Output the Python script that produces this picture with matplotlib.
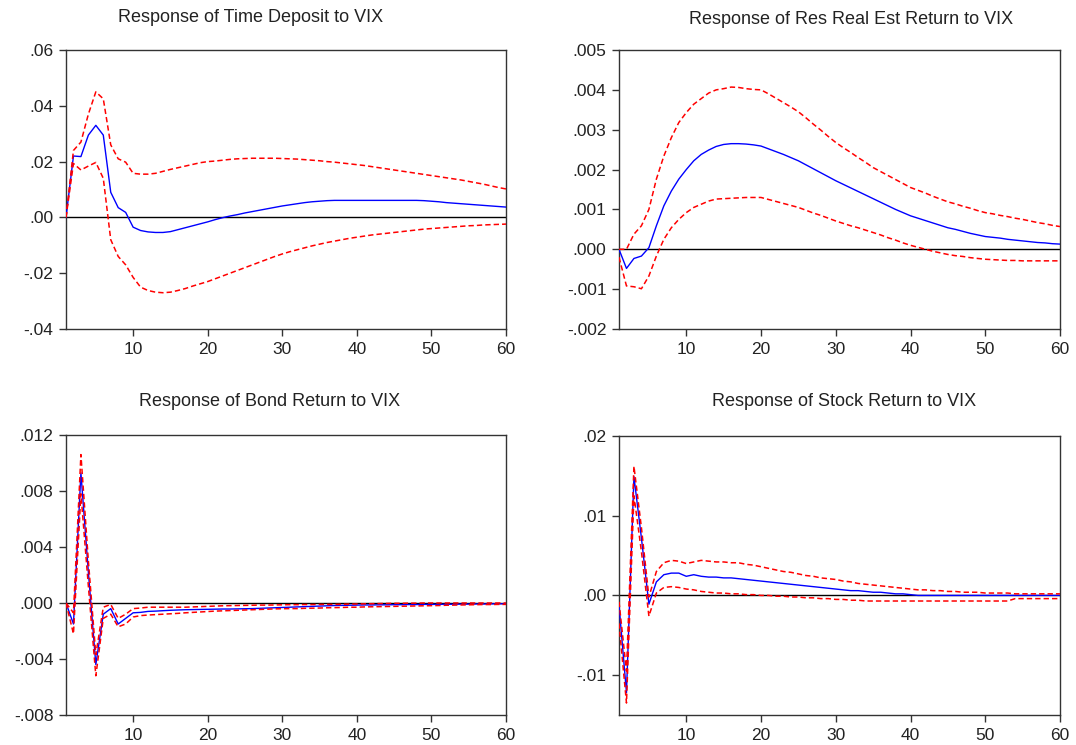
import numpy as np
import matplotlib
matplotlib.use("Agg")
import matplotlib.pyplot as plt

plt.rcParams["font.family"] = ["Liberation Sans", "DejaVu Sans"]

periods = np.arange(1, 61)

# Response of Time Deposit to VIX
td_resp = [0.0, 0.0220, 0.0218, 0.0295, 0.0330, 0.0295, 0.0090, 0.0035, 0.0018, -0.0035,
           -0.0047, -0.0052, -0.0054, -0.0054, -0.0051, -0.0044, -0.0037, -0.0030, -0.0023, -0.0016,
           -0.0008, -0.0001, 0.0005, 0.0010, 0.0016, 0.0021, 0.0026, 0.0031, 0.0036, 0.0041,
           0.0045, 0.0049, 0.0053, 0.0056, 0.0058, 0.0060, 0.0061, 0.0061, 0.0061, 0.0061,
           0.0061, 0.0061, 0.0061, 0.0061, 0.0061, 0.0061, 0.0061, 0.0061, 0.0060, 0.0058,
           0.0056, 0.0053, 0.0051, 0.0049, 0.0047, 0.0045, 0.0043, 0.0041, 0.0039, 0.0037]
td_up = [0.0, 0.0240, 0.0270, 0.0370, 0.0450, 0.0425, 0.0260, 0.0210, 0.0198, 0.0158,
         0.0155, 0.0155, 0.0158, 0.0165, 0.0172, 0.0178, 0.0184, 0.0190, 0.0196, 0.0200,
         0.0202, 0.0205, 0.0208, 0.0210, 0.0211, 0.0212, 0.0212, 0.0212, 0.0212, 0.0211,
         0.0210, 0.0209, 0.0207, 0.0205, 0.0203, 0.0200, 0.0198, 0.0195, 0.0192, 0.0189,
         0.0186, 0.0182, 0.0178, 0.0174, 0.0170, 0.0166, 0.0162, 0.0158, 0.0154, 0.0150,
         0.0146, 0.0142, 0.0138, 0.0134, 0.0129, 0.0124, 0.0119, 0.0113, 0.0107, 0.0102]
td_lo = [0.0, 0.0193, 0.0170, 0.0184, 0.0197, 0.0140, -0.0080, -0.0140, -0.0170, -0.0215,
         -0.0250, -0.0262, -0.0268, -0.0270, -0.0268, -0.0262, -0.0255, -0.0246, -0.0238, -0.0230,
         -0.0220, -0.0210, -0.0200, -0.0190, -0.0180, -0.0170, -0.0160, -0.0150, -0.0140, -0.0131,
         -0.0123, -0.0116, -0.0109, -0.0102, -0.0096, -0.0090, -0.0085, -0.0080, -0.0075, -0.0071,
         -0.0067, -0.0063, -0.0060, -0.0057, -0.0054, -0.0051, -0.0048, -0.0045, -0.0042, -0.0040,
         -0.0038, -0.0036, -0.0034, -0.0032, -0.0030, -0.0029, -0.0027, -0.0026, -0.0025, -0.0024]

# Response of Res Real Est Return to VIX
re_resp = [0.0, -0.00048, -0.00023, -0.00017, 0.00004, 0.00059, 0.00109, 0.00146, 0.00176, 0.00200,
           0.00222, 0.00238, 0.00249, 0.00258, 0.00263, 0.00265, 0.00265, 0.00264, 0.00262, 0.00259,
           0.00252, 0.00245, 0.00238, 0.00230, 0.00222, 0.00212, 0.00202, 0.00192, 0.00182, 0.00172,
           0.00163, 0.00154, 0.00145, 0.00136, 0.00127, 0.00118, 0.00109, 0.00100, 0.00092, 0.00084,
           0.00078, 0.00072, 0.00066, 0.00060, 0.00054, 0.00050, 0.00045, 0.00040, 0.00036, 0.00032,
           0.00030, 0.00028, 0.00025, 0.00023, 0.00021, 0.00019, 0.00017, 0.00016, 0.00014, 0.00013]
re_up = [0.0, 0.0, 0.00038, 0.00059, 0.00100, 0.00176, 0.00234, 0.00280, 0.00318, 0.00343,
         0.00364, 0.00378, 0.00392, 0.00400, 0.00403, 0.00407, 0.00406, 0.00403, 0.00401, 0.00400,
         0.00390, 0.00379, 0.00368, 0.00357, 0.00345, 0.00330, 0.00314, 0.00299, 0.00283, 0.00268,
         0.00255, 0.00243, 0.00230, 0.00218, 0.00205, 0.00195, 0.00185, 0.00175, 0.00165, 0.00155,
         0.00148, 0.00141, 0.00133, 0.00126, 0.00119, 0.00114, 0.00108, 0.00103, 0.00097, 0.00092,
         0.00089, 0.00085, 0.00082, 0.00078, 0.00075, 0.00071, 0.00067, 0.00064, 0.00060, 0.00057]
re_lo = [-0.00020, -0.00092, -0.00094, -0.00099, -0.00067, -0.00017, 0.00025, 0.00054, 0.00075, 0.00092,
         0.00105, 0.00113, 0.00121, 0.00126, 0.00127, 0.00128, 0.00129, 0.00130, 0.00130, 0.00130,
         0.00125, 0.00120, 0.00115, 0.00110, 0.00105, 0.00098, 0.00091, 0.00085, 0.00078, 0.00071,
         0.00065, 0.00059, 0.00054, 0.00048, 0.00042, 0.00036, 0.00029, 0.00023, 0.00016, 0.00010,
         0.00005, 0.00000, -0.00005, -0.00009, -0.00013, -0.00016, -0.00018, -0.00021, -0.00023, -0.00025,
         -0.00026, -0.00027, -0.00028, -0.00028, -0.00029, -0.00029, -0.00029, -0.00029, -0.00029, -0.00029]

# Response of Bond Return to VIX
bd_resp = [0.0, -0.0015, 0.0093, 0.0022, -0.0044, -0.0008, -0.0004, -0.0015, -0.0011, -0.0007,
           -0.00067, -0.0006, -0.00058, -0.00055, -0.00052, -0.0005, -0.00048, -0.00047, -0.00046, -0.00045,
           -0.00044, -0.00043, -0.00043, -0.00042, -0.00041, -0.0004, -0.00038, -0.00036, -0.00034, -0.00032,
           -0.0003, -0.00028, -0.00026, -0.00024, -0.00022, -0.0002, -0.00018, -0.00017, -0.00016, -0.00015,
           -0.00014, -0.00014, -0.00013, -0.00013, -0.00012, -0.00012, -0.00011, -0.00011, -0.0001, -0.0001,
           -0.0001, -0.00009, -0.00009, -0.00008, -0.00008, -0.00007, -0.00007, -0.00006, -0.00006, -0.00005]
bd_up = [0.0, -0.0007, 0.0106, 0.0030, -0.0037, -0.0003, -0.0001, -0.0011, -0.0008, -0.0004,
         -0.00036, -0.0003, -0.0003, -0.0003, -0.0003, -0.0003, -0.0003, -0.00028, -0.00026, -0.00024,
         -0.00022, -0.0002, -0.00019, -0.00018, -0.00017, -0.00016, -0.00015, -0.00015, -0.00014, -0.00013,
         -0.00012, -0.00012, -0.00011, -0.00011, -0.0001, -0.0001, -0.0001, -0.00009, -0.00008, -0.00007,
         -0.00006, -0.00005, -0.00004, -0.00003, -0.00002, -0.00002, -0.00001, -0.00001, 0.0, 0.0,
         0.0, 0.0, 0.0, 0.0, 0.0, 0.0, 0.0, 0.0, 0.0, 0.0]
bd_lo = [0.0, -0.0022, 0.0078, 0.0012, -0.0052, -0.0011, -0.0008, -0.0017, -0.0015, -0.0010,
         -0.0009, -0.00086, -0.00083, -0.0008, -0.00077, -0.00074, -0.0007, -0.00067, -0.00064, -0.00061,
         -0.00058, -0.00056, -0.00054, -0.00052, -0.0005, -0.00048, -0.00046, -0.00044, -0.00042, -0.00041,
         -0.0004, -0.0004, -0.00038, -0.00037, -0.00036, -0.00034, -0.00033, -0.00032, -0.0003, -0.0003,
         -0.00028, -0.00027, -0.00026, -0.00025, -0.00024, -0.00023, -0.00022, -0.00021, -0.0002, -0.00019,
         -0.00018, -0.00016, -0.00015, -0.00014, -0.00013, -0.00012, -0.00011, -0.00011, -0.0001, -0.0001]

# Response of Stock Return to VIX
st_resp = [-0.0012, -0.0122, 0.0149, 0.0072, -0.0011, 0.0017, 0.0026, 0.0028, 0.0028, 0.0024,
           0.0026, 0.0024, 0.0023, 0.0023, 0.0022, 0.0022, 0.0021, 0.0020, 0.0019, 0.0018,
           0.0017, 0.0016, 0.0015, 0.0014, 0.0013, 0.0012, 0.0011, 0.0010, 0.0009, 0.0008,
           0.0007, 0.0006, 0.0006, 0.0005, 0.0004, 0.0004, 0.0003, 0.0002, 0.0002, 0.0001,
           0.0, 0.0, 0.0, 0.0, 0.0, 0.0, 0.0, 0.0, 0.0, 0.0,
           0.0, 0.0, 0.0, 0.0, 0.0, 0.0, 0.0, 0.0, 0.0, 0.0]
st_up = [-0.0008, -0.0095, 0.0162, 0.0085, -0.0002, 0.0030, 0.0041, 0.0044, 0.0043, 0.0040,
         0.0042, 0.0044, 0.0043, 0.0042, 0.0042, 0.0041, 0.0041, 0.0039, 0.0038, 0.0036,
         0.0034, 0.0032, 0.0030, 0.0029, 0.0027, 0.0025, 0.0024, 0.0022, 0.0021, 0.0020,
         0.0018, 0.0017, 0.0015, 0.0014, 0.0013, 0.0012, 0.0011, 0.0010, 0.0009, 0.0008,
         0.0007, 0.0007, 0.0006, 0.0006, 0.0005, 0.0005, 0.0004, 0.0004, 0.0004, 0.0003,
         0.0003, 0.0003, 0.0003, 0.0002, 0.0002, 0.0002, 0.0002, 0.0002, 0.0002, 0.0002]
st_lo = [-0.0035, -0.0135, 0.0125, 0.0055, -0.0026, 0.0003, 0.0010, 0.0011, 0.0010, 0.0008,
         0.0007, 0.0005, 0.0004, 0.0003, 0.0003, 0.0002, 0.0002, 0.0001, 0.0001, 0.0,
         0.0, -0.0001, -0.0001, -0.0002, -0.0002, -0.0003, -0.0003, -0.0004, -0.0004, -0.0005,
         -0.0005, -0.0006, -0.0006, -0.0007, -0.0007, -0.0007, -0.0007, -0.0007, -0.0007, -0.0007,
         -0.0007, -0.0007, -0.0007, -0.0007, -0.0007, -0.0007, -0.0007, -0.0007, -0.0007, -0.0007,
         -0.0007, -0.0007, -0.0007, -0.0004, -0.0004, -0.0004, -0.0004, -0.0004, -0.0004, -0.0004]

titles = ["Response of Time Deposit to VIX", "Response of Res Real Est Return to VIX",
          "Response of Bond Return to VIX", "Response of Stock Return to VIX"]

td_yticks = [-0.04, -0.02, 0.0, 0.02, 0.04, 0.06]
td_ylabels = ["-.04", "-.02", ".00", ".02", ".04", ".06"]
re_yticks = [-0.002, -0.001, 0.0, 0.001, 0.002, 0.003, 0.004, 0.005]
re_ylabels = ["-.002", "-.001", ".000", ".001", ".002", ".003", ".004", ".005"]
bd_yticks = [-0.008, -0.004, 0.0, 0.004, 0.008, 0.012]
bd_ylabels = ["-.008", "-.004", ".000", ".004", ".008", ".012"]
st_yticks = [-0.01, 0.0, 0.01, 0.02]
st_ylabels = ["-.01", ".00", ".01", ".02"]

xticks = [10, 20, 30, 40, 50, 60]

W, H = 1076, 745
fig = plt.figure(figsize=(W / 100, H / 100), dpi=100)


def px_axes(left, top, right, bottom):
    return fig.add_axes([left / W, 1 - bottom / H, (right - left) / W, (bottom - top) / H])


panels = [
    (px_axes(66, 50, 506, 329), td_resp, td_up, td_lo, td_yticks, td_ylabels, (-0.04, 0.06), (251, 18)),
    (px_axes(619, 50, 1060, 329), re_resp, re_up, re_lo, re_yticks, re_ylabels, (-0.002, 0.005), (851, 20)),
    (px_axes(66, 435, 506, 715), bd_resp, bd_up, bd_lo, bd_yticks, bd_ylabels, (-0.008, 0.012), (270, 402)),
    (px_axes(619, 436, 1060, 715), st_resp, st_up, st_lo, st_yticks, st_ylabels, (-0.015, 0.02), (844, 402)),
]

for i, (ax, resp, up, lo, yt, yl, ylim, tpos) in enumerate(panels):
    ax.axhline(0, color="black", lw=1.0, zorder=1)
    ax.plot(periods, resp, color="#0000ff", lw=1.0, zorder=3)
    ax.plot(periods, up, color="#ff0000", lw=1.1, ls=(0, (3.5, 2)), zorder=4)
    ax.plot(periods, lo, color="#ff0000", lw=1.1, ls=(0, (3.5, 2)), zorder=4)
    ax.set_xlim(1, 60)
    ax.set_ylim(*ylim)
    ax.set_xticks(xticks)
    ax.set_yticks(yt)
    ax.set_yticklabels(yl)
    ax.tick_params(direction="out", length=5, width=1, color="#333333",
                   labelsize=12.5, labelcolor="#222222", pad=4)
    for s in ax.spines.values():
        s.set_color("#333333")
        s.set_linewidth(1.0)
    fig.text(tpos[0] / W, 1 - tpos[1] / H, titles[i], ha="center", va="center",
             fontsize=13, color="#222222")

fig.savefig("out.png", dpi=100)
